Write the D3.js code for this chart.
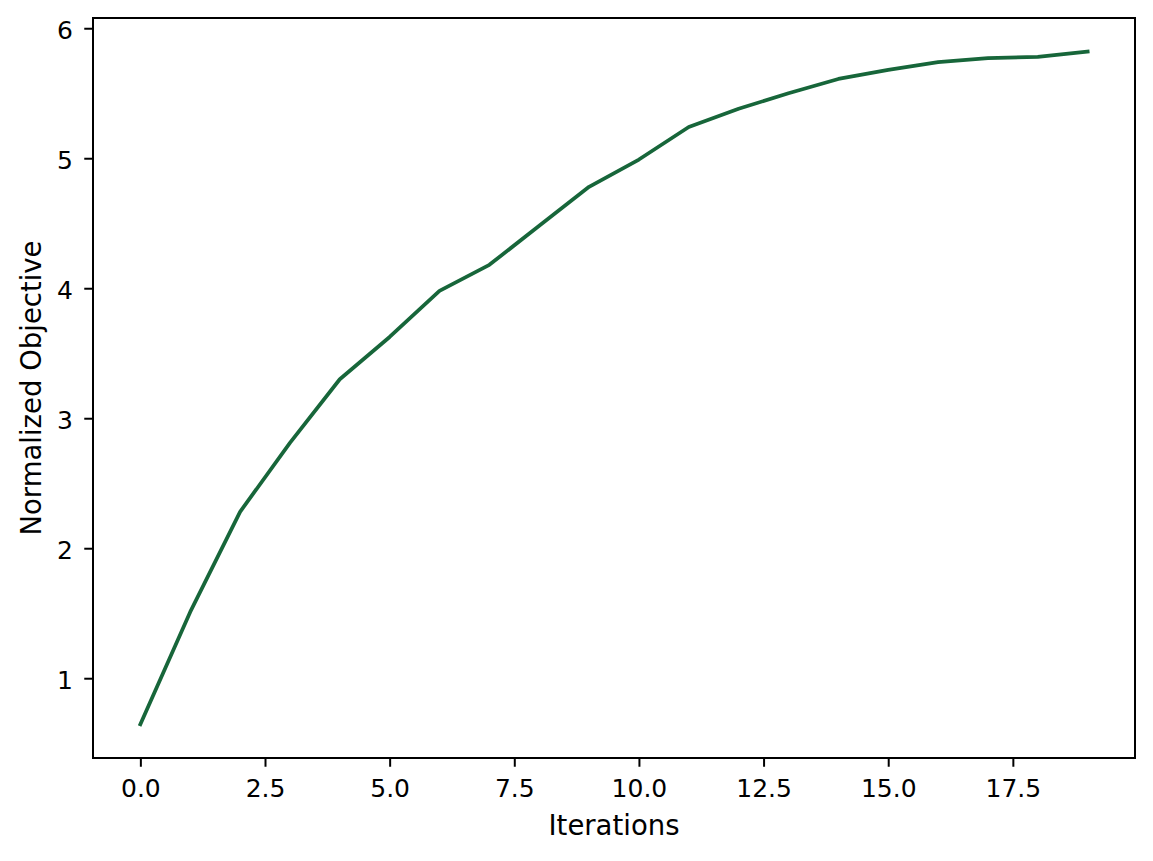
<!DOCTYPE html>
<html>
<head>
    <meta charset="utf-8">
    <title>Normalized Objective vs Iterations</title>
    <style>
        html, body {
            margin: 0;
            padding: 0;
            background: #fff;
        }
        svg text {
            font-family: "DejaVu Sans", sans-serif;
            fill: #000;
        }
        .axis text {
            font-size: 25px;
        }
        .axis line {
            stroke: #000;
            stroke-width: 2;
        }
        .axis path {
            display: none;
        }
    </style>
    <script src="https://d3js.org/d3.v7.min.js"></script>
</head>
<body>
    <svg id="chart"></svg>
<script>
// data
const iterations = [0, 1, 2, 3, 4, 5, 6, 7, 8, 9, 10, 11, 12, 13, 14, 15, 16, 17, 18, 19];
const objective = [0.645, 1.51, 2.28, 2.81, 3.30, 3.625, 3.98, 4.18, 4.48, 4.78,
                   4.99, 5.24, 5.38, 5.50, 5.61, 5.68, 5.74, 5.77, 5.78, 5.82];
const xTicks = [0, 2.5, 5, 7.5, 10, 12.5, 15, 17.5];
const yTicks = [1, 2, 3, 4, 5, 6];

const width = 1153;
const height = 861;
const plot = { left: 93, right: 1135, top: 18, bottom: 758 };

const svg = d3.select("#chart")
    .attr("width", width)
    .attr("height", height);

// matplotlib style 5% margins
const xExt = d3.extent(iterations);
const yExt = d3.extent(objective);
const xPad = (xExt[1] - xExt[0]) * 0.05;
const yPad = (yExt[1] - yExt[0]) * 0.05;

const x = d3.scaleLinear()
    .domain([xExt[0] - xPad, xExt[1] + xPad])
    .range([plot.left, plot.right]);
const y = d3.scaleLinear()
    .domain([yExt[0] - yPad, yExt[1] + yPad])
    .range([plot.bottom, plot.top]);

const tickLen = 8.75;

const xAxis = d3.axisBottom(x)
    .tickValues(xTicks)
    .tickFormat(d3.format(".1f"))
    .tickSizeInner(tickLen)
    .tickSizeOuter(0);
const gx = svg.append("g")
    .attr("class", "x axis")
    .attr("transform", "translate(0," + plot.bottom + ")")
    .call(xAxis);
gx.selectAll("text")
    .attr("y", 39)
    .attr("dy", 0);

const yAxis = d3.axisLeft(y)
    .tickValues(yTicks)
    .tickFormat(d3.format("d"))
    .tickSizeInner(tickLen)
    .tickSizeOuter(0);
const gy = svg.append("g")
    .attr("class", "y axis")
    .attr("transform", "translate(" + plot.left + ",0)")
    .call(yAxis);
gy.selectAll("text")
    .attr("x", -20)
    .attr("dy", "0.4em");

// line
const line = d3.line()
    .x((d, i) => x(iterations[i]))
    .y(d => y(d));

svg.append("path")
    .datum(objective)
    .attr("d", line)
    .attr("fill", "none")
    .attr("stroke", "#17663a")
    .attr("stroke-width", 3.75)
    .attr("stroke-linejoin", "round")
    .attr("stroke-linecap", "square");

// frame
svg.append("rect")
    .attr("x", plot.left)
    .attr("y", plot.top)
    .attr("width", plot.right - plot.left)
    .attr("height", plot.bottom - plot.top)
    .attr("fill", "none")
    .attr("stroke", "#000")
    .attr("stroke-width", 2);

// axis labels
svg.append("text")
    .attr("x", (plot.left + plot.right) / 2)
    .attr("y", 835)
    .attr("text-anchor", "middle")
    .attr("font-size", "27.5px")
    .text("Iterations");

svg.append("text")
    .attr("transform", "translate(41," + (plot.top + plot.bottom) / 2 + ") rotate(-90)")
    .attr("text-anchor", "middle")
    .attr("font-size", "27.5px")
    .text("Normalized Objective");
</script>
</body>
</html>
